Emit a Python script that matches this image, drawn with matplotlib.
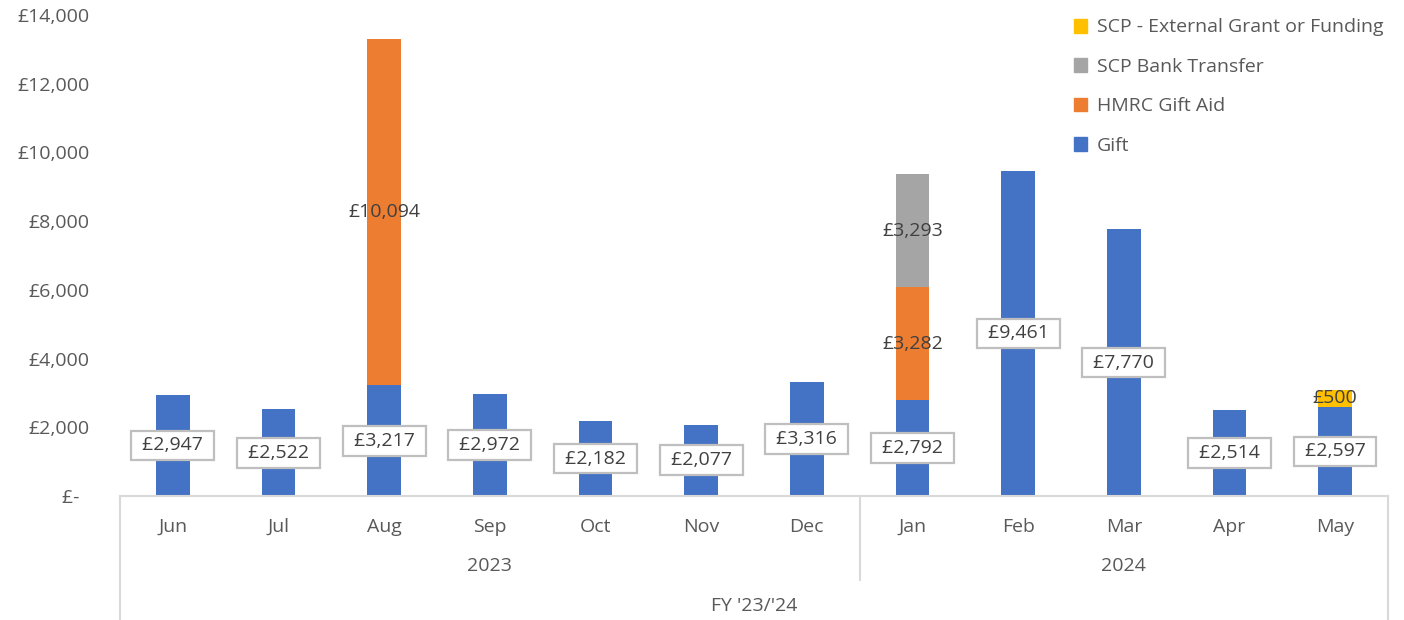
import matplotlib
matplotlib.use('Agg')
import matplotlib.pyplot as plt
import matplotlib.patches as patches
from matplotlib.lines import Line2D
from matplotlib.ticker import FuncFormatter

plt.rcParams['font.family'] = ['Open Sans', 'DejaVu Sans']

# Data
months = ['Jun', 'Jul', 'Aug', 'Sep', 'Oct', 'Nov', 'Dec', 'Jan', 'Feb', 'Mar', 'Apr', 'May']
years = ['2023', '2024']
year_spans = [(0, 6), (7, 11)]
fy_label = "FY '23/'24"

gift = [2947, 2522, 3217, 2972, 2182, 2077, 3316, 2792, 9461, 7770, 2514, 2597]
hmrc_gift_aid = [0, 0, 10094, 0, 0, 0, 0, 3282, 0, 0, 0, 0]
scp_bank_transfer = [0, 0, 0, 0, 0, 0, 0, 3293, 0, 0, 0, 0]
scp_external = [0, 0, 0, 0, 0, 0, 0, 0, 0, 0, 0, 500]

series_names = ['Gift', 'HMRC Gift Aid', 'SCP Bank Transfer', 'SCP - External Grant or Funding']
series_colors = ['#4472C4', '#ED7D31', '#A5A5A5', '#FFC000']

TEXT_COLOR = '#595959'
LINE_COLOR = '#D9D9D9'
FS = 14

fig = plt.figure(figsize=(14.04, 6.2), dpi=100)
ax = fig.add_axes([120 / 1404, 1 - 496 / 620, 1268 / 1404, 481 / 620])

x = list(range(len(months)))
bottom = [0] * len(months)
all_series = [gift, hmrc_gift_aid, scp_bank_transfer, scp_external]

for values, name, color in zip(all_series, series_names, series_colors):
    bars = ax.bar(x, values, width=0.32, bottom=bottom, color=color, label=name, zorder=2)
    if name == 'Gift':
        # boxed labels for the gift series
        labels = [f' £{v:,.0f} ' if v > 0 else '' for v in values]
        bar_texts = ax.bar_label(bars, labels=labels, label_type='center', fontsize=FS, color='#404040')
        for t in bar_texts:
            t.set_bbox(dict(boxstyle='square,pad=0.3', fc='white', ec='#BFBFBF', lw=1.6))
    else:
        labels = [f'£{v:,.0f}' if v > 0 else '' for v in values]
        ax.bar_label(bars, labels=labels, label_type='center', fontsize=FS, color='#404040')
    bottom = [b + v for b, v in zip(bottom, values)]

ax.set_xlim(-0.5, len(months) - 0.5)
ax.set_ylim(0, 14000)
ax.set_yticks(range(0, 14001, 2000))
ax.yaxis.set_major_formatter(FuncFormatter(lambda v, p: f'£{v:,.0f}' if v > 0 else '£-  '))

ax.set_xticks(x)
ax.set_xticklabels(months)
ax.tick_params(axis='both', length=0, labelsize=FS, labelcolor=TEXT_COLOR)
ax.tick_params(axis='x', pad=15.5)
ax.tick_params(axis='y', pad=22)

for side in ['top', 'right', 'left']:
    ax.spines[side].set_visible(False)
ax.spines['bottom'].set_color(LINE_COLOR)
ax.spines['bottom'].set_linewidth(1.5)

# multi-level category axis lines
trans = ax.get_xaxis_transform()
px = 1 / 481.0
for xv, ybot in [(-0.5, -124 * px), (len(months) - 0.5, -124 * px), (6.5, -84 * px)]:
    ax.add_line(Line2D([xv, xv], [0, ybot], transform=trans, color=LINE_COLOR, lw=1.5, clip_on=False))

for name, (a, b) in zip(years, year_spans):
    ax.text((a + b) / 2, -70 * px, name, transform=trans, ha='center', va='center',
            fontsize=FS, color=TEXT_COLOR)
ax.text((len(months) - 1) / 2, -110 * px, fy_label, transform=trans, ha='center', va='center',
        fontsize=FS, color=TEXT_COLOR)

# legend, reversed like the stacking order
handles = [patches.Patch(color=c, label=n) for n, c in zip(series_names, series_colors)][::-1]
leg = fig.legend(handles=handles, loc='upper left', bbox_to_anchor=(1056 / 1404, 1 - 1 / 620),
                 frameon=False, fontsize=FS, handlelength=0.7, handleheight=0.7,
                 handletextpad=0.5, labelspacing=1.1)
for t in leg.get_texts():
    t.set_color(TEXT_COLOR)

fig.savefig('out.png', dpi=100)
